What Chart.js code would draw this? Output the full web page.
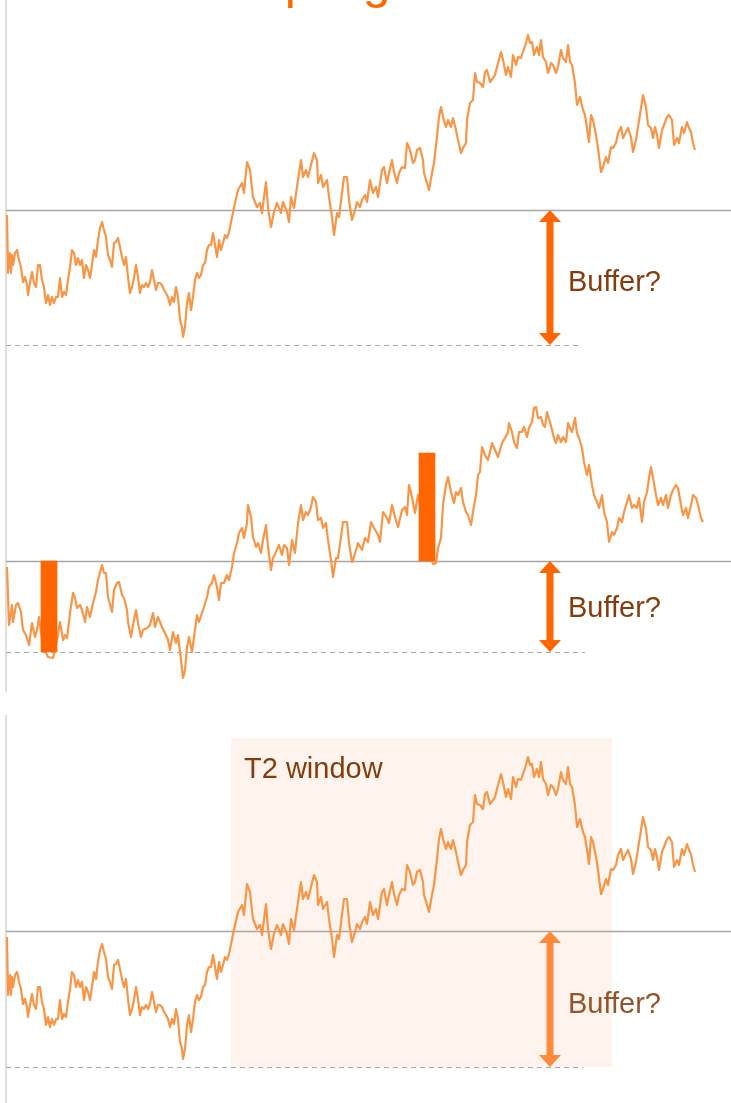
<!DOCTYPE html>
<html>
<head>
<meta charset="utf-8">
<script src="https://cdn.jsdelivr.net/npm/chart.js@4.4.1/dist/chart.umd.min.js"></script>
<style>
  body { margin:0; width:731px; height:1103px; overflow:hidden; background:#fff; position:relative; font-family:"Liberation Sans", Arial, sans-serif; }
  .panel { position:absolute; left:0; width:731px; }
  #title { position:absolute; left:182px; top:-44px; font-size:50px; line-height:50px; color:#FF6600; white-space:nowrap; }
</style>
</head>
<body>
<div class="panel" style="top:0;height:360px"><canvas id="c1" width="731" height="360"></canvas></div>
<div class="panel" style="top:360px;height:355px"><canvas id="c2" width="731" height="355"></canvas></div>
<div class="panel" style="top:715px;height:388px"><canvas id="c3" width="731" height="388"></canvas></div>
<div id="title">Sampling risk</div>
<script>
// price path (level above the floor), used in panel 1 and 3
const days = [7,8,10,11,12,13,15,17,19,21,23,25,27,28,30,32,34,36,38,40,42,44,46,48,50,52,54,56,58,60,62,64,66,68,70,72,74,76,78,80,82,84,86,88,90,92,94,96,98,100,102,104,106,108,110,112,114,116,118,120,122,124,126,128,130,132,134,136,138,140,142,144,146,148,150,152,154,156,158,160,162,164,166,168,170,172,174,176,178,180,182,183,185,187,189,191,193,195,197,199,201,203,205,207,209,211,213,215,217,219,221,223,225,227,229,
  235,238,242,244,247,250,253,257,260,262,266,268,271,274,277,281,283,287,289,291,294,298,301,303,306,308,311,314,317,318,321,323,327,329,332,334,337,339,342,344,347,349,352,355,357,360,362,365,367,370,373,376,378,382,384,387,389,392,394,397,399,402,405,407,410,413,415,417,420,423,424,427,429,432,434,437,439,441,443,446,448,451,453,456,458,461,463,466,467,
  470,473,475,477,480,483,485,487,490,493,495,497,501,503,506,508,511,513,516,518,521,523,526,528,530,532,534,537,539,541,543,546,548,551,553,556,558,561,563,566,568,570,572,575,577,580,583,585,587,589,591,593,596,598,601,603,606,608,611,613,616,618,621,623,626,628,631,633,636,638,641,643,646,648,651,653,655,657,659,662,664,667,669,672,674,677,679,682,684,687,689,691,693,695];
const level = [130,72,92,72,90,80,92,95,85,78,63,68,60,50,62,73,62,58,80,80,65,58,42,50,40,48,42,48,48,67,48,53,50,65,78,95,92,80,87,80,85,67,80,75,67,80,95,88,105,117,123,115,108,90,85,78,102,103,107,98,88,80,88,68,52,58,67,80,68,52,60,58,62,58,63,75,65,55,62,62,60,55,52,48,40,48,43,58,48,25,18,8,18,42,52,35,48,65,72,67,70,80,82,95,100,100,112,100,88,105,95,102,110,107,113,
  142,155,162,152,183,175,148,138,142,132,163,138,118,133,142,132,143,133,123,148,137,165,185,168,175,168,180,192,185,162,170,158,165,148,128,110,132,128,152,168,168,145,125,135,143,138,145,150,143,165,152,158,148,175,178,162,172,185,173,162,172,178,177,202,195,182,185,195,197,185,172,162,155,172,182,208,228,238,228,218,225,218,227,215,205,192,197,202,225,
  242,245,272,263,262,258,273,275,263,267,270,278,293,285,270,278,268,290,280,288,287,293,302,310,302,303,290,298,290,305,288,283,272,282,280,272,278,295,287,283,300,283,280,262,240,248,235,230,217,203,230,225,210,197,173,178,188,182,198,197,202,212,218,207,213,217,208,193,205,218,237,250,238,220,217,207,218,210,197,215,220,228,230,225,200,207,202,218,212,223,217,213,202,195];

// path with the two shocks (panel 2)
const days2 = [7,9,12,13,16,18,21,23,26,29,32,35,37,39,43,48,53,57,60,63,65,67,70,73,75,77,80,82,85,87,90,93,96,98,102,104,106,108,112,114,117,119,122,124,127,128,131,133,136,138,141,143,147,150,153,155,158,162,165,168,170,173,176,178,181,183,185,187,189,192,194,197,199,202,204,207,209,212,214,217,219,221,224,227,229,232,234,237,239,242,244,247,248,251,253,256,258,261,263,266,268,271,273,276,279,282,284,287,289,292,295,298,301,303,306,308,311,313,316,318,321,323,326,328,331,333,336,338,341,343,347,349,352,354,
  358,362,365,368,371,374,378,380,383,387,389,392,395,398,402,405,407,409,412,415,418,423,429,433,436,438,441,443,446,448,451,454,456,458,461,463,466,468,471,473,476,478,480,482,485,488,490,492,495,498,500,502,505,508,509,512,514,517,519,522,524,527,529,532,534,536,538,541,543,545,547,550,552,554,556,558,561,563,566,568,570,572,575,577,579,582,584,587,589,592,594,597,599,602,604,607,609,612,614,617,619,622,624,627,629,632,634,637,639,642,644,647,649,651,653,656,658,661,663,666,668,671,673,676,678,681,683,686,688,691,693,696,698,701,703];
const level2 = [85,27,47,30,47,49,40,22,17,7,29,15,22,35,5,-5,-6,12,30,12,17,14,39,59,54,44,47,42,30,45,35,49,60,72,87,79,79,55,40,62,69,70,57,54,42,30,15,27,42,29,15,22,24,27,39,25,35,25,19,12,2,20,9,17,-8,-26,-18,5,15,0,15,37,30,39,45,55,65,69,77,65,52,69,69,77,72,85,99,109,119,124,114,129,147,135,115,105,109,99,112,127,105,82,94,100,107,97,107,104,87,112,99,129,147,132,140,137,145,155,150,132,134,124,129,112,92,75,94,94,115,130,130,109,90,95,
  109,102,114,110,130,124,117,110,140,134,129,147,135,125,142,145,137,167,155,139,157,130,100,88,89,104,114,147,167,175,160,149,160,157,164,150,140,137,127,140,157,177,180,205,197,192,200,209,202,195,202,209,214,220,229,220,210,204,220,220,225,215,224,230,244,245,234,235,227,225,240,230,222,214,209,217,210,215,210,229,224,220,234,219,214,204,190,177,187,167,157,150,144,157,140,130,110,120,117,124,134,130,140,150,157,144,147,144,154,130,150,160,174,185,174,157,147,154,147,157,144,157,162,167,164,147,137,144,134,147,157,154,147,134,130];

// shocks in panel 2: [day, low, high]
const shockDays = [49, 427];
const shockRanges = [[0, 91], [91, 199]];

const floorLevel = 0;
const triggerLevels = [135, 91, 136];
const axisDay = 6;
const arrowDay = 550;
const windowStart = 231, windowEnd = 612, windowTop = 329;

const LINE = '#F79646';
const ORANGE = '#FF6600';
const BROWN = '#843C0C';

const panels = [
  { id:'c1', yMin:-15, yMax:345, trigger:triggerLevels[0], dashEnd:582, arrow:ORANGE, text:BROWN, labelLevel:54 },
  { id:'c2', yMin:-63, yMax:292, trigger:triggerLevels[1], dashEnd:585, arrow:ORANGE, text:BROWN, labelLevel:35, axisLow:-40 },
  { id:'c3', yMin:-36, yMax:352, trigger:triggerLevels[2], dashEnd:583, arrow:'#FF8A3D', text:'#94532A', labelLevel:54, shade:true }
];

function drawArrow(ctx, x, y1, y2, color) {
  const head = 12, half = 11, shaft = 3.5;
  ctx.fillStyle = color;
  ctx.beginPath();
  ctx.moveTo(x, y1);
  ctx.lineTo(x + half, y1 + head);
  ctx.lineTo(x + shaft, y1 + head);
  ctx.lineTo(x + shaft, y2 - head);
  ctx.lineTo(x + half, y2 - head);
  ctx.lineTo(x, y2);
  ctx.lineTo(x - half, y2 - head);
  ctx.lineTo(x - shaft, y2 - head);
  ctx.lineTo(x - shaft, y1 + head);
  ctx.lineTo(x - half, y1 + head);
  ctx.closePath();
  ctx.fill();
}

const decor = {
  id: 'decor',
  beforeDatasetsDraw(chart, args, o) {
    const ctx = chart.ctx, xs = chart.scales.x, ys = chart.scales.y;
    ctx.save();
    if (o.shade) {
      const l = xs.getPixelForValue(windowStart), r = xs.getPixelForValue(windowEnd);
      const t = ys.getPixelForValue(windowTop), b = ys.getPixelForValue(floorLevel);
      ctx.fillStyle = '#FEF4ED';
      ctx.fillRect(l, t, r - l, b - t);
    }
    // left axis
    const ax = xs.getPixelForValue(axisDay);
    ctx.strokeStyle = '#D4D4D4';
    ctx.lineWidth = 1.5;
    ctx.beginPath();
    ctx.moveTo(ax, chart.chartArea.top);
    ctx.lineTo(ax, o.axisLow !== undefined ? ys.getPixelForValue(o.axisLow) : chart.chartArea.bottom);
    ctx.stroke();
    // trigger line
    const yt = Math.round(ys.getPixelForValue(o.trigger)) + 0.5;
    ctx.strokeStyle = '#A6A6A6';
    ctx.lineWidth = 1.4;
    ctx.beginPath();
    ctx.moveTo(ax, yt);
    ctx.lineTo(chart.chartArea.right, yt);
    ctx.stroke();
    // floor line
    const yf = Math.round(ys.getPixelForValue(floorLevel)) + 0.5;
    ctx.setLineDash([5, 4]);
    ctx.lineWidth = 1;
    ctx.beginPath();
    ctx.moveTo(ax, yf);
    ctx.lineTo(xs.getPixelForValue(o.dashEnd), yf);
    ctx.stroke();
    ctx.restore();
  },
  afterDatasetsDraw(chart, args, o) {
    const ctx = chart.ctx, xs = chart.scales.x, ys = chart.scales.y;
    ctx.save();
    drawArrow(ctx, xs.getPixelForValue(arrowDay), ys.getPixelForValue(o.trigger), ys.getPixelForValue(floorLevel), o.arrow);
    ctx.fillStyle = o.text;
    ctx.font = '29px "Liberation Sans", Arial, sans-serif';
    ctx.textBaseline = 'alphabetic';
    ctx.fillText('Buffer?', xs.getPixelForValue(568), ys.getPixelForValue(o.labelLevel));
    if (o.shade) {
      ctx.fillStyle = BROWN;
      ctx.fillText('T2 window', xs.getPixelForValue(244), ys.getPixelForValue(289));
    }
    ctx.restore();
  }
};

panels.forEach((p, i) => {
  const d = i === 1 ? days2 : days;
  const v = i === 1 ? level2 : level;
  const datasets = [{
    type: 'line',
    data: d.map((x, k) => ({ x: x, y: v[k] })),
    borderColor: LINE,
    borderWidth: 2.2,
    pointRadius: 0,
    tension: 0,
    borderJoinStyle: 'round',
    order: 1
  }];
  if (i === 1) {
    datasets.push({
      type: 'bar',
      data: shockDays.map((x, k) => ({ x: x, y: shockRanges[k] })),
      backgroundColor: ORANGE,
      barThickness: 16,
      order: 0
    });
  }
  new Chart(document.getElementById(p.id), {
    type: 'line',
    data: { datasets: datasets },
    options: {
      responsive: false,
      animation: false,
      devicePixelRatio: 1,
      layout: { padding: 0 },
      plugins: { legend: { display: false }, tooltip: { enabled: false }, decor: p },
      scales: {
        x: { type: 'linear', min: 0, max: 731, display: false, offset: false },
        y: { min: p.yMin, max: p.yMax, display: false }
      }
    },
    plugins: [decor]
  });
});
</script>
</body>
</html>
